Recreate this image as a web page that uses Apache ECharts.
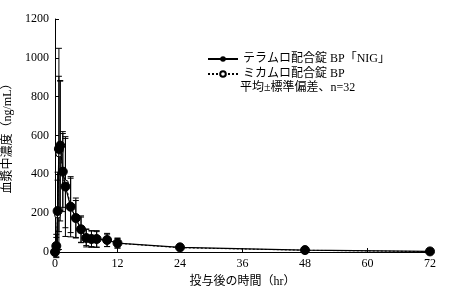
<!DOCTYPE html>
<html><head><meta charset="utf-8">
<script src="https://cdn.jsdelivr.net/npm/echarts@6/dist/echarts.min.js"></script>
<style>html,body{margin:0;padding:0;background:#fff}#c{width:450px;height:296px}</style>
</head><body><div id="c"></div>
<script>
const times = [0, 0.25, 0.5, 0.75, 1, 1.5, 2, 3, 4, 5, 6, 7, 8, 10, 12, 24, 48, 72];
const teramuroMean = [0, 31, 211, 531, 548, 414, 337, 233, 175, 117, 72, 67, 67, 62, 46, 24, 10, 3];
const teramuroSD   = [0, 60, 200, 518, 335, 206, 257, 155, 103, 69, 46, 43, 43, 34, 26, 6, 4, 1];
const mikamuroMean = [0, 25, 190, 505, 520, 420, 355, 240, 170, 115, 75, 68, 65, 60, 45, 22, 9, 2];
const mikamuroSD   = [0, 50, 180, 400, 360, 190, 230, 140, 95, 65, 42, 40, 40, 32, 24, 5, 3, 1];
const xTicks = [0, 12, 24, 36, 48, 60, 72];
const yTicks = [0, 200, 400, 600, 800, 1000, 1200];
const name1 = 'テラムロ配合錠 BP「NIG」';
const name2 = 'ミカムロ配合錠 BP';
const noteText = '平均±標準偏差、n=32';

const FONT = '"Liberation Serif", "Noto Sans CJK JP", serif';
const chart = echarts.init(document.getElementById('c'));

function errData(mean, sd) {
  return times.map((t, i) => [t, mean[i] - sd[i], mean[i] + sd[i]]);
}
function errSeries(data) {
  return {
    type: 'custom', silent: true, z: 1,
    renderItem: function (params, api) {
      const x = api.value(0);
      const lo = api.coord([x, api.value(1)]);
      const hi = api.coord([x, api.value(2)]);
      const w = 3;
      const st = { stroke: '#000', lineWidth: 1 };
      return { type: 'group', children: [
        { type: 'line', shape: { x1: lo[0], y1: lo[1], x2: hi[0], y2: hi[1] }, style: st },
        { type: 'line', shape: { x1: lo[0]-w, y1: lo[1], x2: lo[0]+w, y2: lo[1] }, style: st },
        { type: 'line', shape: { x1: hi[0]-w, y1: hi[1], x2: hi[0]+w, y2: hi[1] }, style: st }
      ]};
    },
    data: data, clip: false
  };
}

chart.setOption({
  animation: false,
  grid: { left: 55, right: 20, top: 19, bottom: 44, containLabel: false, outerBoundsMode: 'none' },
  legend: {
    left: 202, top: 48, orient: 'vertical', itemGap: 3, itemWidth: 30, itemHeight: 7,
    textStyle: { fontFamily: FONT, fontSize: 12, color: '#000', lineHeight: 12 },
    data: [name1, name2]
  },
  graphic: [{ type: 'text', left: 240, top: 82, style: { text: noteText, font: '12px ' + FONT, fill: '#000' } }],
  xAxis: {
    type: 'value', min: 0, max: 72, interval: 12,
    name: '投与後の時間（hr）', nameLocation: 'middle', nameGap: 24,
    nameTextStyle: { fontFamily: FONT, fontSize: 12, color: '#000' },
    axisLine: { lineStyle: { color: '#000' } },
    axisTick: { inside: true, length: 4, lineStyle: { color: '#000' } },
    axisLabel: { fontFamily: FONT, fontSize: 12, color: '#000', margin: 6,
      formatter: v => xTicks.includes(v) ? String(v) : '' },
    splitLine: { show: false }
  },
  yAxis: {
    type: 'value', min: 0, max: 1200, interval: 200,
    name: '血漿中濃度（ng/mL）', nameLocation: 'middle', nameGap: 40, nameRotate: 90,
    nameTextStyle: { fontFamily: FONT, fontSize: 12, color: '#000' },
    axisLine: { show: true, lineStyle: { color: '#000' } },
    axisTick: { show: true, inside: true, length: 4, lineStyle: { color: '#000' } },
    axisLabel: { fontFamily: FONT, fontSize: 12, color: '#000', margin: 6,
      formatter: v => yTicks.includes(v) ? String(v) : '' },
    splitLine: { show: false }
  },
  series: [
    errSeries(errData(mikamuroMean, mikamuroSD)),
    errSeries(errData(teramuroMean, teramuroSD)),
    {
      name: name2, type: 'line', z: 2,
      data: times.map((t, i) => [t, mikamuroMean[i]]),
      symbol: 'circle', symbolSize: 6,
      itemStyle: { color: '#fff', borderColor: '#000', borderWidth: 1 },
      lineStyle: { color: '#000', width: 1, type: [2, 2] }
    },
    {
      name: name1, type: 'line', z: 3,
      data: times.map((t, i) => [t, teramuroMean[i]]),
      symbol: 'circle', symbolSize: 9,
      itemStyle: { color: '#000', borderColor: '#000' },
      lineStyle: { color: '#000', width: 1.2 }
    }
  ]
});
</script></body></html>
